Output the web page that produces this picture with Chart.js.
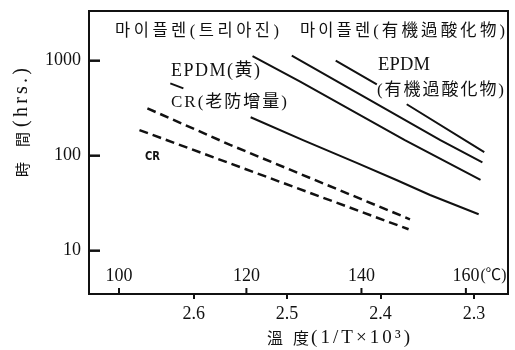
<!DOCTYPE html>
<html>
<head>
<meta charset="utf-8">
<script src="https://cdn.jsdelivr.net/npm/chart.js@4.4.1/dist/chart.umd.min.js"></script>
<style>
  html, body { margin: 0; padding: 0; background: #fff; }
  canvas { display: block; }
</style>
</head>
<body>
<canvas id="c" width="515" height="350"></canvas>
<script>
// Tick values
const xTicks = [2.3, 2.4, 2.5, 2.6];          // 1/T × 10³
const yTicks = [10, 100, 1000];               // hrs.
const tempTicks = [100, 120, 140, 160];       // ℃

// Service life curves: reciprocal temperature (1/T×10³) vs. time (hrs.)
const epdmPeroxInvT = [2.448, 2.404, 2.388, 2.372, 2.289];
const epdmPeroxHrs  = [1000, 564, null, 348, 109];
const mipPeroxInvT  = [2.495, 2.336, 2.291];
const mipPeroxHrs   = [1130, 146, 85];
const mipTriazInvT  = [2.537, 2.486, 2.374, 2.293];
const mipTriazHrs   = [1120, 601, 146, 55.5];
const epdmYellowInvT = [2.539, 2.483, 2.4255, 2.383, 2.347, 2.295];
const epdmYellowHrs  = [254, 146, 84, 55.5, 38.6, 24.2];
const crAntiInvT = [2.6495, 2.561, 2.3685];
const crAntiHrs  = [315, 130, 21.4];
const crInvT = [2.658, 2.561, 2.370];
const crHrs  = [186, 83, 16.8];
const leaderInvT = [2.625, 2.611];
const leaderHrs  = [578, 512];

const INK = '#111';
const SERIF = "'Liberation Serif','DejaVu Serif',serif";
const CJK = "'Noto Sans CJK JP',sans-serif";
const MIX_KR = "'Liberation Serif','Noto Sans CJK KR',serif";
const MIX_JP = "'Liberation Serif','Noto Sans CJK JP',serif";

const pts = (xs, ys) => xs.map((x, i) => ({ x, y: ys[i] }));
const solid = (xs, ys) => ({ data: pts(xs, ys), borderColor: INK, borderWidth: 2, spanGaps: false });
const dashed = (xs, ys) => ({ data: pts(xs, ys), borderColor: INK, borderWidth: 2.5, borderDash: [9, 5] });

// Text placed inside the plot
const notes = [
  { text: '마이플렌(트리아진)',     font: `16.5px ${MIX_KR}`, x: 115, y: 32,  w: 164 },
  { text: '마이플렌(有機過酸化物)', font: `16.5px ${MIX_KR}`, x: 300, y: 32,  w: 205 },
  { text: 'EPDM(黄)',              font: `18px ${MIX_JP}`,   x: 171, y: 71,  w: 89 },
  { text: 'CR(老防增量)',          font: `17px ${MIX_JP}`,   x: 171, y: 103, w: 116 },
  { text: 'EPDM',                  font: `18.5px ${SERIF}`,  x: 378, y: 65,  w: 52 },
  { text: '(有機過酸化物)',        font: `17px ${MIX_JP}`,   x: 377, y: 91,  w: 127 },
  { text: 'CR',                    font: "bold 12px 'DejaVu Sans',sans-serif", x: 145, y: 157, w: 15 },
];

// Draw a string so that it spans a given width (letter spacing, or squeeze if too wide)
function drawFit(ctx, t, x, y, w, font) {
  ctx.save();
  ctx.font = font;
  ctx.textAlign = 'left';
  ctx.textBaseline = 'middle';
  ctx.fillStyle = INK;
  const hasLS = 'letterSpacing' in ctx;
  if (hasLS) ctx.letterSpacing = '0px';
  const nat = ctx.measureText(t).width;
  const n = [...t].length;
  if (nat < w && n > 1 && hasLS) {
    ctx.letterSpacing = ((w - nat) / (n - 1)) + 'px';
    ctx.fillText(t, x, y);
  } else {
    ctx.translate(x, y);
    ctx.scale(w / nat, 1);
    ctx.fillText(t, 0, 0);
  }
  ctx.restore();
}

const decorations = {
  id: 'decorations',
  afterDraw(chart) {
    const { ctx, chartArea: a, scales: { x, y } } = chart;
    ctx.save();
    ctx.strokeStyle = INK;
    ctx.lineWidth = 2;
    ctx.lineCap = 'square';

    // top and right edges of the frame
    ctx.beginPath();
    ctx.moveTo(a.left, a.top);
    ctx.lineTo(a.right, a.top);
    ctx.lineTo(a.right, a.bottom);
    ctx.stroke();

    // inward ticks on the time axis
    ctx.lineCap = 'butt';
    ctx.lineWidth = 2.5;
    yTicks.forEach(v => {
      const py = y.getPixelForValue(v);
      ctx.beginPath();
      ctx.moveTo(a.left, py);
      ctx.lineTo(a.left + 11, py);
      ctx.stroke();
    });

    // temperature scale along the bottom axis
    ctx.lineWidth = 2;
    ctx.fillStyle = INK;
    ctx.textBaseline = 'middle';
    tempTicks.forEach((t, i) => {
      const px = x.getPixelForValue(1000 / (t + 273.15));
      ctx.beginPath();
      ctx.moveTo(px, a.bottom);
      ctx.lineTo(px, a.bottom - 6);
      ctx.stroke();
      ctx.font = `18px ${SERIF}`;
      ctx.textAlign = 'center';
      ctx.fillText(String(t), px, a.bottom - 18);
      if (i === tempTicks.length - 1) {
        const half = ctx.measureText(String(t)).width / 2;
        drawFit(ctx, '(℃)', px + half + 1, a.bottom - 18, 26, `16px ${MIX_JP}`);
      }
    });

    // labels on the plot
    notes.forEach(n => drawFit(ctx, n.text, n.x, n.y, n.w, n.font));

    // x-axis title
    drawFit(ctx, '溫', 267, 338, 16, `16px ${CJK}`);
    drawFit(ctx, '度', 293, 338, 16, `16px ${CJK}`);
    drawFit(ctx, '(1/T×10³)', 311, 338, 99, `19px ${SERIF}`);

    // y-axis title, reading upward
    ctx.save();
    ctx.translate(22, 122.5);
    ctx.rotate(-Math.PI / 2);
    drawFit(ctx, '時', -54.5, 0, 15, `15px ${CJK}`);
    drawFit(ctx, '間', -24.5, 0, 15, `15px ${CJK}`);
    drawFit(ctx, '(hrs.)', -4.5, 0, 59, `20px ${SERIF}`);
    ctx.restore();

    ctx.restore();
  }
};

new Chart(document.getElementById('c'), {
  type: 'line',
  data: {
    datasets: [
      solid(epdmPeroxInvT, epdmPeroxHrs),
      solid(mipPeroxInvT, mipPeroxHrs),
      solid(mipTriazInvT, mipTriazHrs),
      solid(epdmYellowInvT, epdmYellowHrs),
      dashed(crAntiInvT, crAntiHrs),
      dashed(crInvT, crHrs),
      solid(leaderInvT, leaderHrs),
    ]
  },
  options: {
    responsive: false,
    devicePixelRatio: 1,
    animation: false,
    layout: { padding: { top: 11, right: 7, left: 0, bottom: 0 } },
    elements: { point: { radius: 0 }, line: { tension: 0, fill: false } },
    plugins: { legend: { display: false }, tooltip: { enabled: false } },
    scales: {
      x: {
        type: 'linear',
        reverse: true,
        min: 2.2636,
        max: 2.712,
        afterBuildTicks: s => { s.ticks = xTicks.map(v => ({ value: v })); },
        afterFit: s => { s.height = 56; s.paddingLeft = 0; s.paddingRight = 0; },
        grid: { display: true, drawOnChartArea: false, drawTicks: true, tickLength: 5, lineWidth: 2, color: INK },
        border: { display: true, color: INK, width: 2 },
        ticks: {
          color: INK, padding: 4, autoSkip: false, maxRotation: 0,
          font: { family: SERIF, size: 18 },
          callback: v => Number(v).toFixed(1)
        }
      },
      y: {
        type: 'logarithmic',
        min: 3.5,
        max: 3336,
        afterBuildTicks: s => { s.ticks = yTicks.map(v => ({ value: v })); },
        afterFit: s => { s.width = 89; s.paddingTop = 0; s.paddingBottom = 0; },
        grid: { display: true, drawOnChartArea: false, drawTicks: false },
        border: { display: true, color: INK, width: 2 },
        ticks: {
          color: INK, padding: 8, autoSkip: false,
          font: { family: SERIF, size: 18 },
          callback: v => String(v)
        }
      }
    }
  },
  plugins: [decorations]
});
</script>
</body>
</html>
